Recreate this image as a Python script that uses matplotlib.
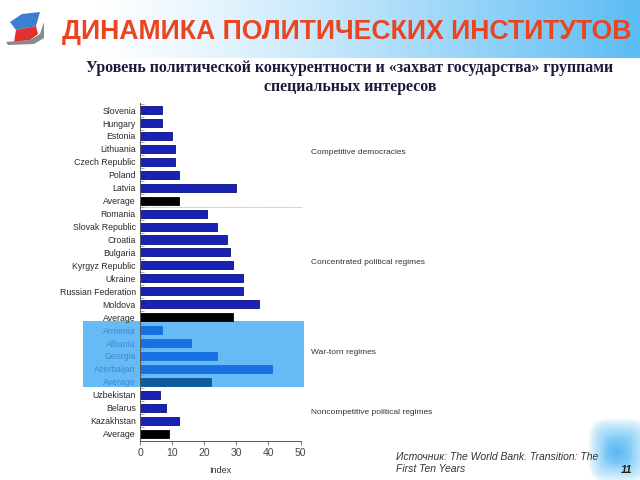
import numpy as np
import matplotlib
matplotlib.use("Agg")
import matplotlib.pyplot as plt
from matplotlib.patches import Rectangle, Polygon

countries = ["Slovenia", "Hungary", "Estonia", "Lithuania", "Czech Republic", "Poland", "Latvia", "Average",
             "Romania", "Slovak Republic", "Croatia", "Bulgaria", "Kyrgyz Republic", "Ukraine",
             "Russian Federation", "Moldova", "Average",
             "Armenia", "Albania", "Georgia", "Azerbaijan", "Average",
             "Uzbekistan", "Belarus", "Kazakhstan", "Average"]
values = [7, 7, 10, 11, 11, 12, 30, 12.3,
          21, 24, 27, 28, 29, 32, 32, 37, 29,
          7, 16, 24, 41, 22,
          6.3, 8, 12, 9]
groups = ["Competitive democracies", "Concentrated political regimes", "War-torn regimes",
          "Noncompetitive political regimes"]
group_sizes = [8, 9, 5, 4]
xticks = [0, 10, 20, 30, 40, 50]

FONT = ["Liberation Sans", "DejaVu Sans"]

fig = plt.figure(figsize=(6.4, 4.8), dpi=100)
bg = fig.add_axes([0, 0, 1, 1], zorder=0)
bg.set_xlim(0, 640)
bg.set_ylim(480, 0)
bg.axis("off")

# header gradient
grad = np.linspace(0, 1, 256)
grad = np.clip((grad - 0.15) / 0.85, 0, 1) ** 1.2
c0 = np.array([1, 1, 1])
c1 = np.array([0x5c, 0xbc, 0xf4]) / 255
img = c0[None, None, :] * (1 - grad[None, :, None]) + c1[None, None, :] * grad[None, :, None]
bg.imshow(img, extent=[0, 640, 58, 0], aspect="auto", zorder=0)

# glow square bottom right
yy, xx = np.mgrid[0:80, 0:70]
dx = np.abs((xx - 35) / 35.0)
dy = np.abs((yy - 40) / 40.0)
r = (dx ** 4 + dy ** 4) ** 0.25
a = np.clip((1 - r) / 0.6, 0, 1) ** 0.7
inner = np.clip(1 - np.sqrt(((xx - 33) / 20.0) ** 2 + ((yy - 42) / 22.0) ** 2), 0, 1)
gimg = np.ones((80, 70, 3))
blue = np.array([0x8c, 0xd0, 0xf8]) / 255
blue2 = np.array([0x5a, 0xb8, 0xf2]) / 255
col = blue[None, None, :] * (1 - inner[..., None]) + blue2[None, None, :] * inner[..., None]
gimg = gimg * (1 - a[..., None]) + col * a[..., None]
bg.imshow(gimg, extent=[588, 648, 482, 418], aspect="auto", zorder=0)

# logo
bg.add_patch(Polygon([[10, 22], [22, 14], [40, 12], [36, 26], [16, 30]], closed=True,
                     facecolor="#3a7fd0", edgecolor="none", zorder=1))
bg.add_patch(Polygon([[16, 30], [36, 26], [38, 34], [30, 40], [14, 42]], closed=True,
                     facecolor="#e03030", edgecolor="none", zorder=1))
bg.add_patch(Polygon([[6, 42], [30, 40], [40, 34], [44, 22], [44, 38], [34, 44], [8, 45]], closed=True,
                     facecolor="#8a8a8a", edgecolor="none", zorder=1))

# highlight box
bg.add_patch(Rectangle((83, 321), 221, 66, facecolor="#66bbf5", edgecolor="none", zorder=1))

# titles
bg.text(347, 32, "ДИНАМИКА ПОЛИТИЧЕСКИХ ИНСТИТУТОВ", ha="center", va="center",
        fontsize=19.2, fontweight="bold", color="#ea4420", family=["Liberation Sans", "DejaVu Sans"], zorder=3)
bg.text(350, 77.5, "Уровень политической конкурентности и «захват государства» группами\nспециальных интересов",
        ha="center", va="center", fontsize=11.4, fontweight="bold", color="#1a1a3a",
        family=["Liberation Serif", "DejaVu Serif"], linespacing=1.3, zorder=3)
bg.text(396, 463, "Источник: The World Bank. Transition: The\nFirst Ten Years", ha="left", va="center",
        fontsize=7.5, style="italic", color="#333333", family=["Liberation Sans", "DejaVu Sans"],
        linespacing=1.25, zorder=3)
bg.text(632, 470, "11", ha="right", va="center", fontsize=8, style="italic", fontweight="bold",
        color="#222222", family=["Liberation Sans", "DejaVu Sans"], zorder=3)

# group labels
for txt, y in zip(groups, [153, 263, 353, 412]):
    bg.text(311, y, txt, ha="left", va="center", fontsize=6, color="#333333", family=FONT, zorder=3)

# main axes
ax = fig.add_axes([140 / 640, (480 - 440.7) / 480, 160.5 / 640, (440.7 - 103) / 480], zorder=2)
ax.set_facecolor("none")
n = len(countries)
ypos = np.arange(n)
colors = []
edges = []
labcolors = []
for gi, gs in enumerate(group_sizes):
    for k in range(gs):
        last = k == gs - 1
        if gi == 2:
            colors.append("#0d5a9a" if last else "#1670e0")
            edges.append("#0d5a9a" if last else "#1670e0")
            labcolors.append("#3f86d6")
        else:
            colors.append("#000000" if last else "#1a22b4")
            edges.append("#000000" if last else "#0c1080")
            labcolors.append("#2a2a2a")
ax.barh(ypos, values, height=0.62, color=colors, edgecolor=edges, linewidth=0.6)
ax.set_ylim(n - 0.45, -0.55)
ax.set_xlim(0, 50)
ax.set_yticks(ypos)
ax.set_yticklabels(countries, fontsize=6.3, family=FONT)
for tl, c in zip(ax.get_yticklabels(), labcolors):
    tl.set_color(c)
ax.tick_params(axis="y", length=0, pad=3)
ax.set_yticks(ypos - 0.5, minor=True)
ax.tick_params(axis="y", which="minor", direction="in", length=3, width=0.5, color="#888888")
ax.set_xticks(xticks)
ax.set_xticklabels([str(v) for v in xticks], fontsize=7.5, family=FONT, color="#444444")
ax.tick_params(axis="x", length=3, width=0.6, color="#666666", pad=2)
ax.set_xlabel("Index", fontsize=6.5, family=FONT, color="#333333", labelpad=6)
for s in ["top", "right"]:
    ax.spines[s].set_visible(False)
for s in ["left", "bottom"]:
    ax.spines[s].set_color("#555555")
    ax.spines[s].set_linewidth(0.7)
ax.axhline(7.5, xmin=0, xmax=1.01, color="#999999", linestyle=(0, (1, 1)), linewidth=0.6, clip_on=False)

fig.savefig("out.png", dpi=100)
